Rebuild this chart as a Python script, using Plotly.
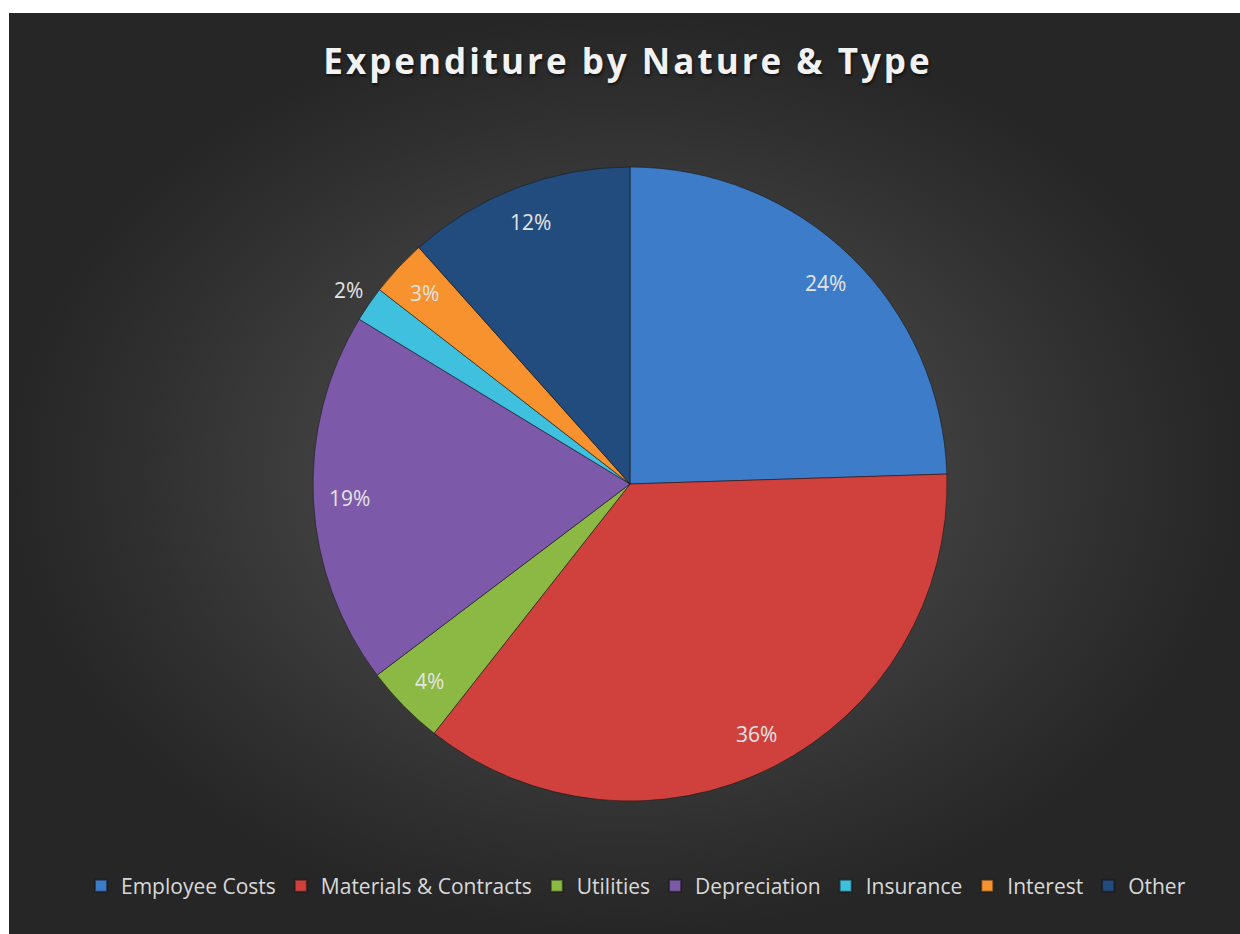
import math
import plotly.graph_objects as go

# ---- data ----
categories = ["Employee Costs", "Materials & Contracts", "Utilities", "Depreciation",
              "Insurance", "Interest", "Other"]
values = [24.5, 36.1, 4.1, 19.0, 1.8, 2.9, 11.6]
colors = ["#3d7cc9", "#d0413d", "#8cb844", "#7d59a9", "#3fc0de", "#f7922f", "#224b7e"]
title_text = "Expenditure by Nature & Type"

# ---- layout geometry (page pixels; body margin removed below) ----
W, H = 1240, 934
BG_X0, BG_Y0 = 9, 13
PIE_CX, PIE_CY, PIE_R = 630, 484, 317

fig = go.Figure()

# background panel with radial gradient
fig.add_trace(go.Scatter(
    x=[BG_X0, W, W, BG_X0, BG_X0], y=[BG_Y0, BG_Y0, H, H, BG_Y0],
    mode="lines", fill="toself", line=dict(width=0),
    fillgradient=dict(type="radial",
                      colorscale=[[0, "#4a4a4a"], [0.45, "#414141"], [0.78, "#303030"], [1, "#262626"]]),
    hoverinfo="skip", showlegend=False, xaxis="x", yaxis="y"))

dom_x = [(PIE_CX - PIE_R) / W, (PIE_CX + PIE_R) / W]
dom_y = [(H - PIE_CY - PIE_R) / H, (H - PIE_CY + PIE_R) / H]

fig.add_trace(go.Pie(
    labels=categories, values=values, sort=False, direction="clockwise", rotation=0,
    marker=dict(colors=colors, line=dict(color="rgba(20,20,20,0.55)", width=1)),
    textinfo="none", hoverinfo="label+percent",
    domain=dict(x=dom_x, y=dom_y)))

# percentage labels, placed from the data along each slice's mid-angle
total = sum(values)
cum = 0.0
annotations = []
for cat, v in zip(categories, values):
    frac = v / total
    mid = (cum + frac / 2) * 2 * math.pi
    cum += frac
    rf = 0.885 if frac >= 0.025 else 1.08
    ax = PIE_CX + rf * PIE_R * math.sin(mid)
    ay = PIE_CY - rf * PIE_R * math.cos(mid)
    annotations.append(dict(
        x=ax, y=ay, xref="x", yref="y", text=f"{round(frac * 100)}%", showarrow=False,
        font=dict(family="Open Sans", size=21, color="#e4e4e4"),
        xanchor="center", yanchor="middle"))

fig.update_layout(
    width=W, height=H,
    margin=dict(l=0, r=0, t=0, b=0),
    paper_bgcolor="#ffffff", plot_bgcolor="rgba(0,0,0,0)",
    xaxis=dict(range=[0, W], domain=[0, 1], visible=False, fixedrange=True),
    yaxis=dict(range=[H, 0], domain=[0, 1], visible=False, fixedrange=True),
    title=dict(text=title_text, x=628 / W, xanchor="center", y=1 - 62 / H, yanchor="middle",
               font=dict(family="Open Sans", size=35, color="#f2f2f2", weight="bold",
                         shadow="1px 2px 3px rgba(0,0,0,0.6)")),
    legend=dict(orientation="h", x=636 / W, xanchor="center", y=(H - 886) / H, yanchor="middle",
                font=dict(family="Open Sans", size=21, color="#d9d9d9"),
                bgcolor="rgba(0,0,0,0)", itemsizing="constant", traceorder="normal"),
    annotations=annotations,
    showlegend=True,
)

post = """
document.body.style.margin = '0';
document.body.style.overflow = 'hidden';
var t = document.querySelectorAll('.gtitle');
t.forEach(function(el){ el.style.letterSpacing = '3px'; });
"""
fig.write_html("out.html", post_script=post, config={"displayModeBar": False})
